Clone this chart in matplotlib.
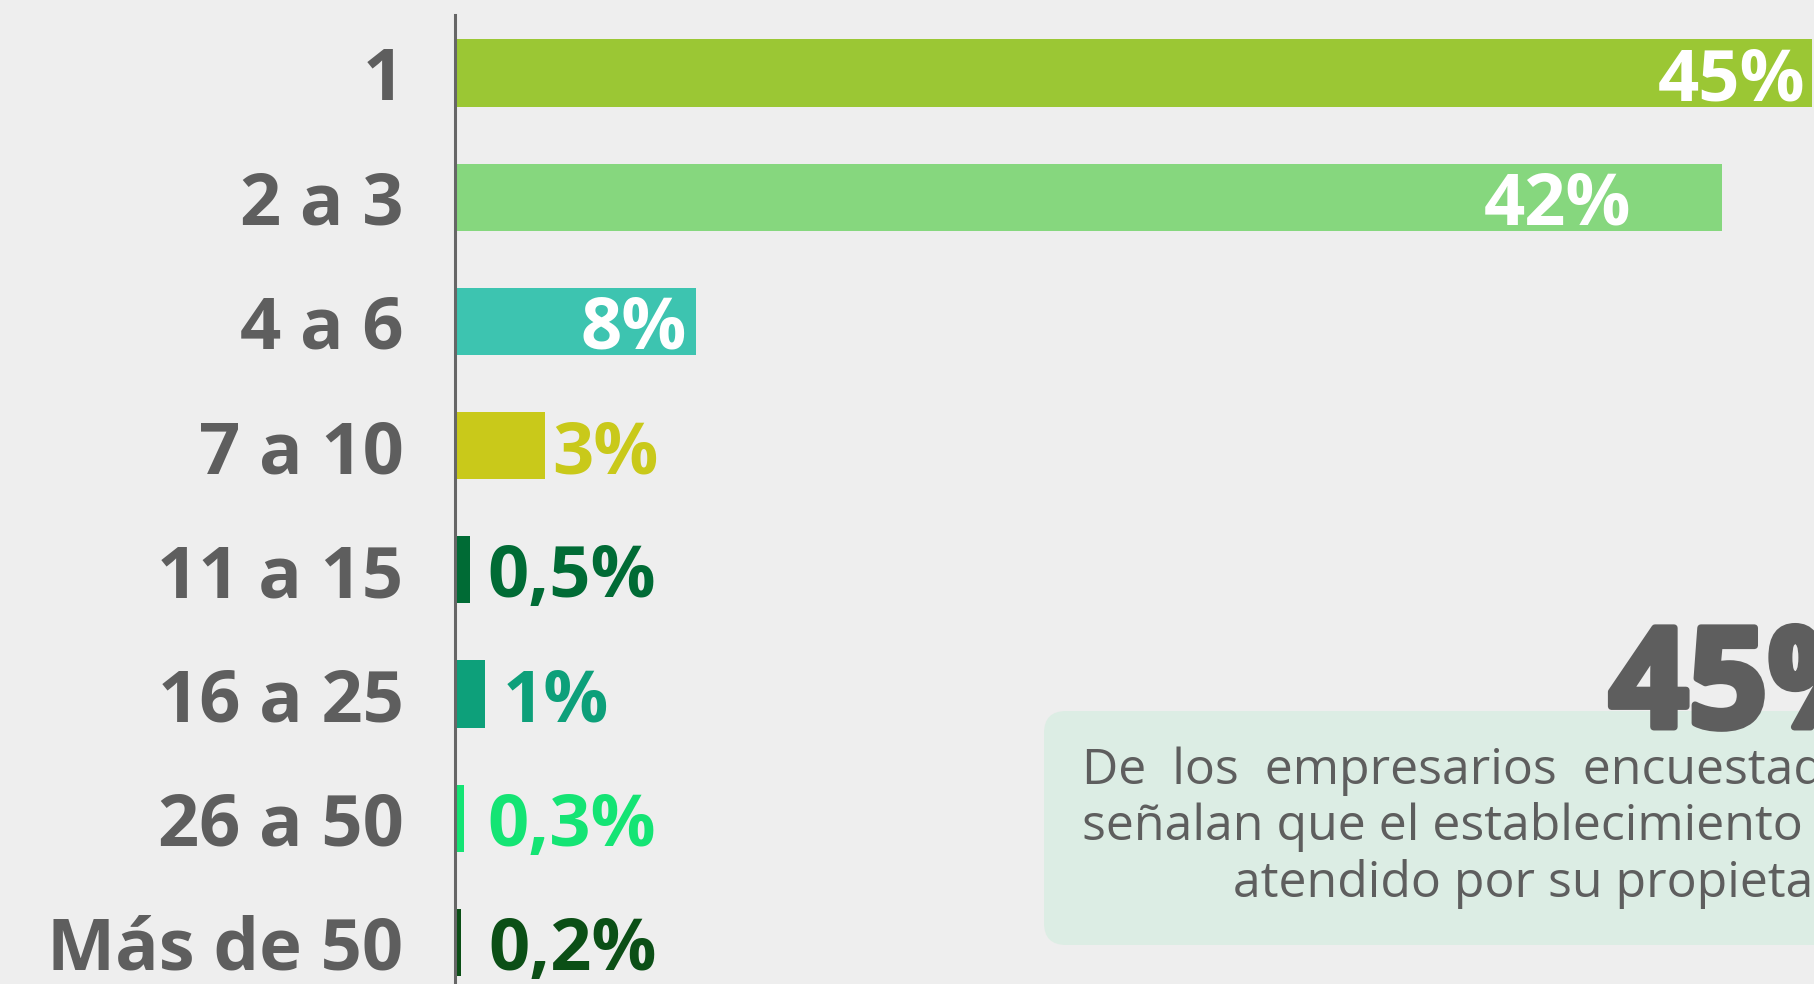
import matplotlib
matplotlib.use("Agg")
import matplotlib.pyplot as plt
import matplotlib.patheffects as pe
from matplotlib.patches import FancyBboxPatch

categories = ["1", "2 a 3", "4 a 6", "7 a 10", "11 a 15", "16 a 25", "26 a 50", "Más de 50"]
values = [45, 42, 8, 3, 0.5, 1, 0.3, 0.2]
value_labels = ["45%", "42%", "8%", "3%", "0,5%", "1%", "0,3%", "0,2%"]
colors = ["#9BC734", "#86D77E", "#3DC4B0", "#C9C91A", "#006B35", "#0DA07A", "#14E474", "#0B4F16"]
highlight = "45%"
note_lines = ["De  los  empresarios  encuestados",
              "señalan que el establecimiento es",
              "atendido por su propietario"]

# label placement: inside (white) for big bars, outside (bar colour) for small ones
inside = [True, True, True, False, False, False, False, False]
label_pad_px = [-7, -90, -9, 7, 17, 18, 23, 27]

plt.rcParams['font.family'] = ['Open Sans', 'DejaVu Sans']
gray = "#5E5E5E"

fig = plt.figure(figsize=(18.15, 9.84), dpi=100, facecolor="#EEEEEE")
ax = fig.add_axes([0, 0, 1, 1])
ax.set_facecolor("none")

px_per_unit = 30.16
row_px = 124.2
first_row_px = 73
ax.set_xlim(-455 / px_per_unit, (1815 - 455) / px_per_unit)
ax.set_ylim((984 - first_row_px) / row_px, -first_row_px / row_px)

y = list(range(len(categories)))
ax.barh(y, values, height=0.54, color=colors, zorder=2)

for sp in ["top", "right", "bottom"]:
    ax.spines[sp].set_visible(False)
ax.spines["left"].set_position(("data", 0))
ax.spines["left"].set_color("#666666")
ax.spines["left"].set_linewidth(2.2)
ax.spines["left"].set_bounds((984 - first_row_px) / row_px, (15 - first_row_px) / row_px)
ax.spines["left"].set_zorder(3)

ax.set_xticks([])
ax.set_yticks(y)
ax.set_yticklabels(categories, fontsize=52, fontweight="bold", color=gray)
ax.tick_params(axis="y", length=0, pad=37)

for i, (v, lab) in enumerate(zip(values, value_labels)):
    if inside[i]:
        ax.annotate(lab, (v, i), xytext=(label_pad_px[i] * 0.72, 0), textcoords="offset points",
                    ha="right", va="center_baseline", fontsize=52, fontweight="bold", color="white", zorder=4)
    else:
        ax.annotate(lab, (v, i), xytext=(label_pad_px[i] * 0.72, 0), textcoords="offset points",
                    ha="left", va="center_baseline", fontsize=52, fontweight="bold", color=colors[i], zorder=4)

# side note box
tr = fig.dpi_scale_trans
box = FancyBboxPatch((10.44, 0.39), 9.0, 2.34, boxstyle="round,pad=0,rounding_size=0.22",
                     transform=tr, facecolor="#DCEDE4", edgecolor="none", zorder=1)
fig.patches.append(box)
fig.text(16.09, 2.57, highlight, transform=tr, fontsize=100, fontweight="bold", color=gray,
         ha="left", va="baseline",
         path_effects=[pe.withStroke(linewidth=5, foreground=gray)])
fig.text(10.82, 2.00, note_lines[0], transform=tr, fontsize=36, color=gray, ha="left", va="baseline")
fig.text(10.82, 1.44, note_lines[1], transform=tr, fontsize=36, color=gray, ha="left", va="baseline")
fig.text(12.33, 0.87, note_lines[2], transform=tr, fontsize=36, color=gray, ha="left", va="baseline")

fig.savefig("out.png", dpi=100, facecolor=fig.get_facecolor())
